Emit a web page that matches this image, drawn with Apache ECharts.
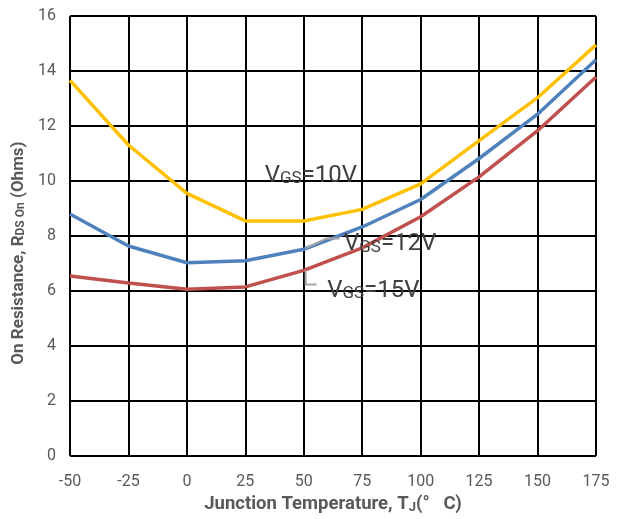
<!DOCTYPE html>
<html>
<head>
<meta charset="utf-8">
<script src="https://cdn.jsdelivr.net/npm/echarts@6/dist/echarts.min.js"></script>
<style>
  html, body { margin: 0; padding: 0; background: #fff; }
  #chart { width: 622px; height: 519px; }
</style>
</head>
<body>
<div id="chart"></div>
<script>
// Junction temperature (°C)
const temperatures = [-50, -25, 0, 25, 50, 75, 100, 125, 150, 175];
// On resistance (Ohms) for each gate voltage
const rdsVgs10 = [13.66, 11.31, 9.55, 8.55, 8.55, 8.97, 9.9, 11.47, 13.03, 14.95];
const rdsVgs12 = [8.8, 7.64, 7.03, 7.1, 7.52, 8.33, 9.33, 10.82, 12.43, 14.41];
const rdsVgs15 = [6.55, 6.29, 6.07, 6.15, 6.75, 7.57, 8.7, 10.15, 11.83, 13.78];

// Series labels: text, anchor in data space (left edge, vertical middle)
const seriesLabels = [
  { volt: '10V', at: [33.3, 10.2] },
  { volt: '12V', at: [67.2, 7.72] },
  { volt: '15V', at: [60.0, 6.02] }
];
// Leader lines from the curves to their labels (data space)
const leaders = [
  [[50.8, 7.55], [59.6, 7.91], [65.3, 7.91]],
  [[50.8, 6.75], [50.8, 6.24], [55.5, 6.24]]
];

const textColor = '#595959';
const font = 'Roboto';

const chart = echarts.init(document.getElementById('chart'));

function pairs(vals) {
  return temperatures.map((t, i) => [t, vals[i]]);
}

const option = {
  animation: false,
  grid: { left: 70, right: 26, top: 16, bottom: 57 },
  xAxis: {
    type: 'value',
    min: -50, max: 175, interval: 25,
    axisLine: { show: false },
    axisTick: { show: false },
    splitLine: { show: true, lineStyle: { color: '#000', width: 2 } },
    axisLabel: { color: textColor, fontFamily: font, fontSize: 16, margin: 18 },
    name: '{b|Junction Temperature, T}{s|J}{b|(°   C)}',
    nameLocation: 'middle',
    nameGap: 38,
    nameTextStyle: {
      rich: {
        b: { fontFamily: font, fontWeight: 'bold', fontSize: 18.5, color: textColor, verticalAlign: 'bottom' },
        s: { fontFamily: font, fontWeight: 'bold', fontSize: 13, color: textColor, verticalAlign: 'bottom' }
      }
    }
  },
  yAxis: {
    type: 'value',
    min: 0, max: 16, interval: 2,
    axisLine: { show: false },
    axisTick: { show: false },
    splitLine: { show: true, lineStyle: { color: '#000', width: 2 } },
    axisLabel: { color: textColor, fontFamily: font, fontSize: 16, margin: 14 },
    name: '{b|On Resistance, R}{s|DS On}{b| (Ohms)}',
    nameLocation: 'middle',
    nameGap: 36,
    nameRotate: 90,
    nameTextStyle: {
      padding: [0, 34, 0, 0],
      rich: {
        b: { fontFamily: font, fontWeight: 'bold', fontSize: 17, color: textColor, verticalAlign: 'bottom' },
        s: { fontFamily: font, fontWeight: 'bold', fontSize: 12, color: textColor, verticalAlign: 'bottom' }
      }
    }
  },
  series: [
    { name: 'VGS=10V', type: 'line', data: pairs(rdsVgs10), showSymbol: false,
      lineStyle: { color: '#FFC000', width: 3.5 }, itemStyle: { color: '#FFC000' }, z: 3 },
    { name: 'VGS=12V', type: 'line', data: pairs(rdsVgs12), showSymbol: false,
      lineStyle: { color: '#4F81BD', width: 3.5 }, itemStyle: { color: '#4F81BD' }, z: 3 },
    { name: 'VGS=15V', type: 'line', data: pairs(rdsVgs15), showSymbol: false,
      lineStyle: { color: '#C0504D', width: 3.5 }, itemStyle: { color: '#C0504D' }, z: 3 }
  ]
};
chart.setOption(option);

// Annotations placed through the chart's own coordinate conversion
const graphics = [];
leaders.forEach(pts => {
  graphics.push({
    type: 'polyline',
    shape: { points: pts.map(p => chart.convertToPixel({ gridIndex: 0 }, p)) },
    style: { stroke: '#A6A6A6', lineWidth: 2, fill: null },
    z: 10
  });
});
seriesLabels.forEach(l => {
  const p = chart.convertToPixel({ gridIndex: 0 }, l.at);
  graphics.push({
    type: 'text',
    x: p[0], y: p[1],
    style: {
      text: '{v|V}{s|GS}{v|=' + l.volt + '}',
      verticalAlign: 'middle',
      align: 'left',
      rich: {
        v: { fontFamily: font, fontSize: 24, fill: '#404040', verticalAlign: 'bottom' },
        s: { fontFamily: font, fontSize: 17, fill: '#404040', verticalAlign: 'bottom' }
      }
    },
    z: 10
  });
});
chart.setOption({ graphic: graphics });
</script>
</body>
</html>
